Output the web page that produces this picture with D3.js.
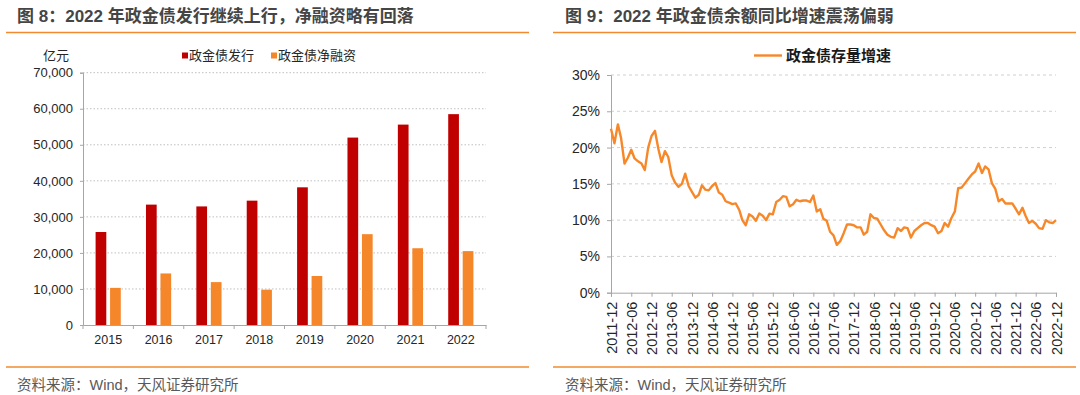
<!DOCTYPE html>
<html><head><meta charset="utf-8">
<script src="https://cdn.jsdelivr.net/npm/d3@7"></script>
<style>
body{margin:0;background:#fff;}
svg{display:block;font-family:"Liberation Sans",Arial,"Noto Sans CJK SC",sans-serif;}
</style>
</head><body>
<svg id="c" width="1080" height="395"></svg>
<script>
// ---------- data ----------
const years = ["2015","2016","2017","2018","2019","2020","2021","2022"];
const issuance = [25800, 33400, 32900, 34500, 38200, 52000, 55600, 58500];
const netFinancing = [10300, 14300, 11900, 9800, 13600, 25200, 21300, 20500];
const barYTicks = [0, 10000, 20000, 30000, 40000, 50000, 60000, 70000];
const barSeries = ["政金债发行", "政金债净融资"];

const growthStart = "2011-12";
const growthRate = [
  22.6,20.6,23.2,21.3,17.8,18.6,19.7,18.5,18.1,17.8,16.9,20.0,
  21.6,22.3,19.8,18.0,19.5,18.7,16.2,15.2,14.6,15.0,16.4,14.7,
  13.9,13.1,13.5,14.8,14.2,14.1,14.7,15.1,13.8,13.5,12.6,12.4,
  12.2,12.3,11.4,10.0,9.3,10.8,10.5,9.9,10.9,10.6,10.0,10.9,
  10.8,12.5,12.8,13.3,13.2,11.9,12.2,12.8,12.6,12.7,12.7,12.5,
  13.4,11.2,11.5,10.2,9.9,8.4,7.9,6.6,7.1,8.2,9.4,9.4,
  9.3,9.0,9.0,8.0,8.4,10.8,10.3,10.2,9.4,8.6,8.0,7.7,
  7.6,8.9,8.5,9.0,8.9,7.6,8.5,8.9,9.3,9.6,9.6,9.3,
  9.1,8.2,8.5,9.6,9.1,10.3,11.2,14.4,14.5,15.1,15.7,16.3,
  16.7,17.8,16.5,17.4,17.0,15.1,14.3,12.6,12.9,12.3,12.3,12.3,
  11.6,10.8,11.7,10.6,9.6,9.9,9.5,8.9,8.8,10.0,9.7,9.6,
  10.0
];
const growthTicks = ["2011-12","2012-06","2012-12","2013-06","2013-12","2014-06","2014-12",
  "2015-06","2015-12","2016-06","2016-12","2017-06","2017-12","2018-06","2018-12",
  "2019-06","2019-12","2020-06","2020-12","2021-06","2021-12","2022-06","2022-12"];
const pctTicks = [0, 5, 10, 15, 20, 25, 30];
const growthName = "政金债存量增速";

// ---------- style ----------
const ORANGE = "#F28A30", RED = "#C00000", BAR_ORANGE = "#F5862A";
const AXIS = "#A6A6A6", TXT = "#262626";
const svg = d3.select("#c");

function header(x0, x1, title, tx) {
  svg.append("text").attr("x", tx).attr("y", 22).attr("font-size", 17)
    .attr("font-weight", "bold").attr("fill", "#454545").text(title);
  svg.append("line").attr("x1", x0).attr("x2", x1).attr("y1", 32.5).attr("y2", 32.5)
    .attr("stroke", ORANGE).attr("stroke-width", 1.6);
  svg.append("line").attr("x1", x0).attr("x2", x1).attr("y1", 367).attr("y2", 367)
    .attr("stroke", ORANGE).attr("stroke-width", 1.6);
  svg.append("text").attr("x", tx).attr("y", 390).attr("font-size", 14.5)
    .attr("fill", "#595959").text("资料来源：Wind，天风证券研究所");
}
header(6, 529, "图 8：2022 年政金债发行继续上行，净融资略有回落", 17);
header(553, 1076, "图 9：2022 年政金债余额同比增速震荡偏弱", 565);

// ---------- left: bar chart ----------
{
  const L = 83, R = 486, T = 72.7, B = 325;
  const x0 = d3.scaleBand().domain(years).range([L, R]).padding(0);
  const x1 = d3.scaleBand().domain(barSeries).range([0, x0.bandwidth()])
    .paddingInner(0.26).paddingOuter(0.87);
  const y = d3.scaleLinear().domain([0, 70000]).range([B, T]);
  const g = svg.append("g");

  g.selectAll(".grid").data(barYTicks.filter(d => d > 0)).join("line")
    .attr("x1", L).attr("x2", R).attr("y1", d => y(d)).attr("y2", d => y(d))
    .attr("stroke", "#BFBFBF").attr("stroke-dasharray", "1.5,2");

  const grp = g.selectAll(".yr").data(years).join("g")
    .attr("transform", d => `translate(${x0(d)},0)`);
  grp.append("rect").attr("x", x1(barSeries[0])).attr("width", x1.bandwidth())
    .attr("y", (d, i) => y(issuance[i])).attr("height", (d, i) => B - y(issuance[i]))
    .attr("fill", RED);
  grp.append("rect").attr("x", x1(barSeries[1])).attr("width", x1.bandwidth())
    .attr("y", (d, i) => y(netFinancing[i])).attr("height", (d, i) => B - y(netFinancing[i]))
    .attr("fill", BAR_ORANGE);

  const ya = g.append("g").attr("transform", `translate(${L},0)`)
    .call(d3.axisLeft(y).tickValues(barYTicks).tickSize(3).tickPadding(7)
      .tickFormat(d3.format(",")));
  ya.select(".domain").attr("stroke", AXIS);
  ya.selectAll(".tick line").attr("stroke", AXIS);
  ya.selectAll("text").attr("font-size", 13).attr("fill", TXT).attr("font-family", null);

  const xa = g.append("g").attr("transform", `translate(0,${B})`)
    .call(d3.axisBottom(x0).tickSize(0).tickPadding(10));
  xa.select(".domain").attr("stroke", AXIS).attr("stroke-width", 1.2);
  xa.selectAll("text").attr("font-size", 12.5).attr("fill", TXT).attr("font-family", null);
  g.selectAll(".xt").data(years.concat(["end"])).join("line")
    .attr("x1", (d, i) => L + i * x0.step()).attr("x2", (d, i) => L + i * x0.step())
    .attr("y1", B).attr("y2", B + 4).attr("stroke", AXIS);

  g.append("text").attr("x", 43).attr("y", 60).attr("font-size", 13).attr("fill", TXT).text("亿元");
  const lg = [{n: barSeries[0], c: RED, x: 182}, {n: barSeries[1], c: BAR_ORANGE, x: 271}];
  lg.forEach(o => {
    g.append("rect").attr("x", o.x).attr("y", 52.5).attr("width", 6).attr("height", 6).attr("fill", o.c);
    g.append("text").attr("x", o.x + 7).attr("y", 60).attr("font-size", 13).attr("fill", TXT).text(o.n);
  });
}

// ---------- right: line chart ----------
{
  const L = 611, R = 1056, T = 75, B = 292.7;
  const parse = d3.timeParse("%Y-%m");
  const start = parse(growthStart);
  const dates = growthRate.map((_, i) => d3.timeMonth.offset(start, i));
  const x = d3.scaleTime().domain([dates[0], dates[dates.length - 1]]).range([L, R]);
  const y = d3.scaleLinear().domain([0, 30]).range([B, T]);
  const g = svg.append("g");

  g.selectAll(".grid").data(pctTicks.filter(d => d > 0)).join("line")
    .attr("x1", L).attr("x2", R).attr("y1", d => y(d)).attr("y2", d => y(d))
    .attr("stroke", "#D0D0D0").attr("stroke-dasharray", "3,3");

  const ya = g.append("g").attr("transform", `translate(${L},0)`)
    .call(d3.axisLeft(y).tickValues(pctTicks).tickSize(4).tickPadding(7)
      .tickFormat(d => d + "%"));
  ya.select(".domain").attr("stroke", AXIS);
  ya.selectAll(".tick line").attr("stroke", AXIS);
  ya.selectAll("text").attr("font-size", 14).attr("fill", TXT).attr("font-family", null);

  const xa = g.append("g").attr("transform", `translate(0,${B})`)
    .call(d3.axisBottom(x).tickValues(growthTicks.map(parse)).tickSize(4)
      .tickFormat(d3.timeFormat("%Y-%m")));
  xa.select(".domain").attr("stroke", AXIS);
  xa.selectAll(".tick line").attr("stroke", AXIS);
  xa.selectAll("text").attr("font-size", 14.5).attr("fill", TXT).attr("font-family", null)
    .attr("text-anchor", "end").attr("transform", "rotate(-90)")
    .attr("x", -9).attr("y", 0).attr("dy", "0.35em");

  const line = d3.line().x((d, i) => x(dates[i])).y(d => y(d));
  g.append("path").datum(growthRate).attr("d", line).attr("fill", "none")
    .attr("stroke", "#F7882A").attr("stroke-width", 2.4).attr("stroke-linejoin", "round");

  g.append("line").attr("x1", 754).attr("x2", 782).attr("y1", 55.5).attr("y2", 55.5)
    .attr("stroke", "#F7882A").attr("stroke-width", 2.4);
  g.append("text").attr("x", 786).attr("y", 61).attr("font-size", 15).attr("font-weight", "bold")
    .attr("fill", "#1a1a1a").text(growthName);
}
</script>
</body></html>
